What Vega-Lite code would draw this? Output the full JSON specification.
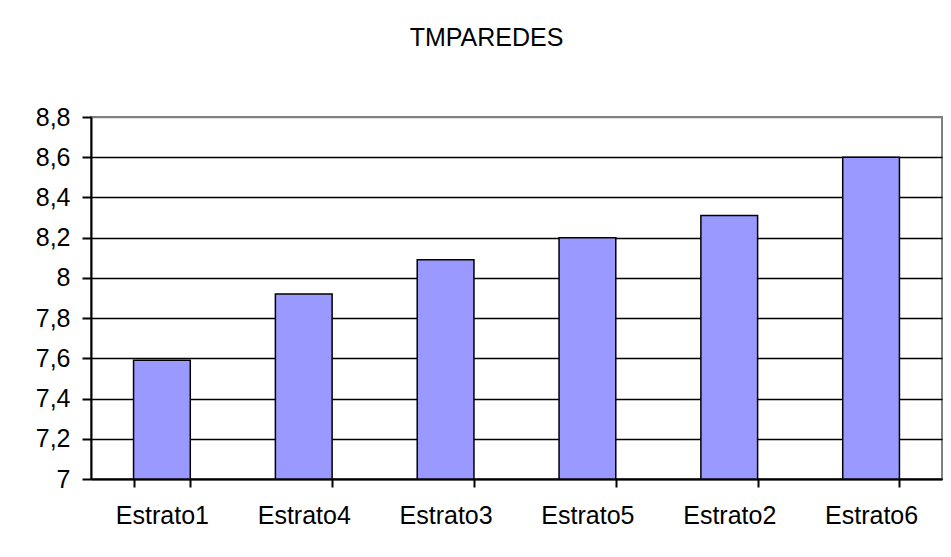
{
  "$schema": "https://vega.github.io/schema/vega-lite/v6.json",
  "width": 851,
  "height": 362,
  "autosize": {"type": "none"},
  "padding": {"left": 91, "top": 117, "right": 9, "bottom": 78},
  "background": "white",
  "title": {
    "text": "TMPAREDES",
    "font": "Liberation Sans",
    "fontSize": 25,
    "fontWeight": "normal",
    "color": "black",
    "anchor": "middle",
    "baseline": "alphabetic",
    "offset": 67,
    "dy": 33,
    "dx": -30
  },
  "config": {
    "view": {"stroke": "#808080", "strokeWidth": 2},
    "axis": {
      "labelFont": "Liberation Sans",
      "labelFontSize": 25,
      "labelColor": "black",
      "domainColor": "black",
      "domainWidth": 2,
      "tickColor": "black",
      "tickWidth": 2
    }
  },
  "data": {
    "values": [
      {"estrato": "Estrato1", "valor": 7.59},
      {"estrato": "Estrato4", "valor": 7.92},
      {"estrato": "Estrato3", "valor": 8.09},
      {"estrato": "Estrato5", "valor": 8.2},
      {"estrato": "Estrato2", "valor": 8.31},
      {"estrato": "Estrato6", "valor": 8.6}
    ]
  },
  "mark": {"type": "bar", "fill": "#9999FF", "stroke": "black", "strokeWidth": 1.5},
  "encoding": {
    "x": {
      "field": "estrato",
      "type": "nominal",
      "sort": null,
      "scale": {"paddingInner": 0.6, "paddingOuter": 0.3},
      "axis": {
        "title": null,
        "labelAngle": 0,
        "tickBand": "extent",
        "tickSize": 8,
        "labelPadding": 16,
        "grid": false
      }
    },
    "y": {
      "field": "valor",
      "type": "quantitative",
      "scale": {"domain": [7, 8.8], "zero": false, "nice": false},
      "axis": {
        "title": null,
        "values": [7, 7.2, 7.4, 7.6, 7.8, 8, 8.2, 8.4, 8.6, 8.8],
        "labelExpr": "replace(format(datum.value, '~g'), '.', ',')",
        "tickSize": 9,
        "labelPadding": 12,
        "grid": true,
        "gridColor": {"condition": {"test": "datum.value >= 8.79", "value": "#808080"}, "value": "black"},
        "gridWidth": 1.5,
        "gridOpacity": 1
      }
    },
    "y2": {"datum": 7}
  }
}
